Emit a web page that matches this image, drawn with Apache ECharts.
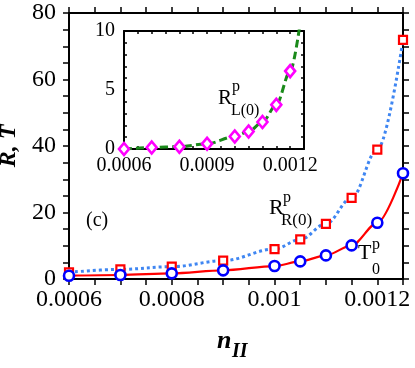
<!DOCTYPE html>
<html>
<head>
<meta charset="utf-8">
<script src="https://cdn.jsdelivr.net/npm/echarts@6/dist/echarts.min.js"></script>
<style>
html,body{margin:0;padding:0;background:#fff;}
#c{width:415px;height:368px;}
</style>
</head>
<body>
<div id="c"></div>
<script>
// ---- data ----
const nII = [0.0006, 0.0007, 0.0008, 0.0009, 0.001, 0.00105, 0.0011, 0.00115, 0.0012, 0.00125];
const T0p = [1.0, 1.2, 1.7, 2.6, 3.9, 5.3, 7.1, 10.1, 16.9, 31.8];
const RRp = [2.0, 2.9, 3.7, 5.5, 9.0, 11.9, 16.6, 24.4, 38.9, 71.9];

const nIIinset = [0.0006, 0.0007, 0.0008, 0.0009, 0.001, 0.00105, 0.0011, 0.00115, 0.0012];
const RLp = [0.0, 0.13, 0.2, 0.44, 1.06, 1.48, 2.28, 3.74, 6.6];
const RLcurveX = [0.0006, 0.0007, 0.0008, 0.0009, 0.001, 0.00105, 0.0011, 0.00115, 0.0012, 0.00125];
const RLcurveY = [0.0, 0.13, 0.2, 0.44, 1.06, 1.48, 2.28, 3.74, 6.6, 13.0];

const mainXTicks = [0.0006, 0.0008, 0.001, 0.0012];
const mainXLabels = ['0.0006', '0.0008', '0.001', '0.0012'];
const mainYTicks = [0, 20, 40, 60, 80];
const mainYLabels = ['0', '20', '40', '60', '80'];
const insetXTicks = [0.0006, 0.0009, 0.0012];
const insetXLabels = ['0.0006', '0.0009', '0.0012'];
const insetYTicks = [0, 5, 10];
const insetYLabels = ['0', '5', '10'];

// ---- helpers ----
const pairs = (xs, ys) => xs.map((x, i) => [x, ys[i]]);
const fmt = (ticks, labels) => v => {
  const i = ticks.findIndex(t => Math.abs(t - v) < 1e-9);
  return i >= 0 ? labels[i] : '';
};
const FONT = 'Liberation Serif';

function axis(opt) {
  const base = {
    type: 'value',
    splitLine: {show: false},
    axisLine: {show: true, onZero: false, lineStyle: {color: '#000', width: opt.lw}},
    axisTick: {show: true, inside: opt.inside, length: opt.tl, interval: 0, lineStyle: {color: '#000', width: 1.5}},
    axisLabel: {show: opt.labels, interval: 0, color: '#000', fontFamily: FONT, fontSize: opt.fs, margin: opt.margin, formatter: opt.formatter, hideOverlap: false}
  };
  return Object.assign(base, opt.extra);
}

const chart = echarts.init(document.getElementById('c'), null, {renderer: 'canvas'});

const option = {
  backgroundColor: '#fff',
  animation: false,
  grid: [
    {left: 69, top: 13, width: 334, height: 266, containLabel: false, outerBoundsMode: 'none'},
    {left: 124, top: 31, width: 180, height: 118, containLabel: false, outerBoundsMode: 'none'}
  ],
  xAxis: [
    axis({lw: 2, inside: false, tl: 6, labels: true, fs: 24, margin: 9, formatter: fmt(mainXTicks, mainXLabels),
      extra: {gridIndex: 0, position: 'bottom', min: 0.0006, max: 0.00125, interval: 0.00005}}),
    axis({lw: 2, inside: false, tl: 6, labels: false, fs: 24, margin: 8,
      extra: {gridIndex: 0, position: 'top', min: 0.0006, max: 0.00125, interval: 0.00005}}),
    axis({lw: 2, inside: true, tl: 3, labels: true, fs: 20, margin: 7, formatter: fmt(insetXTicks, insetXLabels),
      extra: {gridIndex: 1, position: 'bottom', min: 0.0006, max: 0.00125, interval: 0.00005}}),
    axis({lw: 2, inside: true, tl: 3, labels: false, fs: 20, margin: 8,
      extra: {gridIndex: 1, position: 'top', min: 0.0006, max: 0.00125, interval: 0.00005}})
  ],
  yAxis: [
    axis({lw: 2, inside: false, tl: 6, labels: true, fs: 24, margin: 13, formatter: fmt(mainYTicks, mainYLabels),
      extra: {gridIndex: 0, position: 'left', min: 0, max: 80, interval: 5,
        name: 'R, T', nameLocation: 'middle', nameGap: 47,
        nameTextStyle: {fontFamily: FONT, fontSize: 24, fontWeight: 'bold', fontStyle: 'italic', color: '#000'}}}),
    axis({lw: 2, inside: false, tl: 6, labels: false, fs: 24, margin: 8,
      extra: {gridIndex: 0, position: 'right', min: 0, max: 80, interval: 5}}),
    axis({lw: 2, inside: true, tl: 3, labels: true, fs: 20, margin: 9, formatter: fmt(insetYTicks, insetYLabels),
      extra: {gridIndex: 1, position: 'left', min: 0, max: 10, interval: 1}}),
    axis({lw: 2, inside: true, tl: 3, labels: false, fs: 20, margin: 8,
      extra: {gridIndex: 1, position: 'right', min: 0, max: 10, interval: 1}})
  ],
  series: [
    {type: 'line', xAxisIndex: 0, yAxisIndex: 0, data: pairs(nII, RRp), showSymbol: false, symbol: 'none',
      smooth: 0.35, smoothMonotone: 'x', lineStyle: {color: '#3f86f2', width: 3, type: [3, 3]}, z: 2},
    {type: 'line', xAxisIndex: 0, yAxisIndex: 0, data: pairs(nII, T0p), showSymbol: false, symbol: 'none',
      smooth: 0.3, smoothMonotone: 'x', lineStyle: {color: '#ff0000', width: 2.2}, z: 3},
    {type: 'scatter', xAxisIndex: 0, yAxisIndex: 0, data: pairs(nII, RRp), symbol: 'rect', symbolSize: 8,
      itemStyle: {color: '#fff', borderColor: '#ff0000', borderWidth: 2.2, opacity: 1}, z: 4},
    {type: 'scatter', xAxisIndex: 0, yAxisIndex: 0, data: pairs(nII, T0p), symbol: 'circle', symbolSize: 10,
      itemStyle: {color: '#fff', borderColor: '#0000ff', borderWidth: 2.6, opacity: 1}, z: 5},
    {type: 'line', xAxisIndex: 2, yAxisIndex: 2, data: pairs(RLcurveX, RLcurveY), showSymbol: false, symbol: 'none',
      smooth: 0.3, smoothMonotone: 'x', clip: true, lineStyle: {color: '#1a8a1a', width: 3, type: [8, 4]}, z: 2},
    {type: 'scatter', xAxisIndex: 2, yAxisIndex: 2, data: pairs(nIIinset, RLp), symbol: 'diamond', symbolSize: [10, 12],
      itemStyle: {color: '#fff', borderColor: '#ff00ff', borderWidth: 2.6, opacity: 1}, z: 5}
  ],
  graphic: [
    {type: 'text', left: 86, top: 211, style: {text: '(c)', font: '20px "Liberation Serif"', fill: '#000'}},
    // R^p_R(0)
    {type: 'text', x: 269, y: 208, style: {text: 'R', font: '22px "Liberation Serif"', fill: '#000', textVerticalAlign: 'middle'}},
    {type: 'text', x: 283, y: 198, style: {text: 'p', font: '16px "Liberation Serif"', fill: '#000', textVerticalAlign: 'middle'}},
    {type: 'text', x: 281, y: 221, style: {text: 'R(0)', font: '17px "Liberation Serif"', fill: '#000', textVerticalAlign: 'middle'}},
    // T^p_0
    {type: 'text', x: 358, y: 253, style: {text: 'T', font: '22px "Liberation Serif"', fill: '#000', textVerticalAlign: 'middle'}},
    {type: 'text', x: 372, y: 245, style: {text: 'p', font: '16px "Liberation Serif"', fill: '#000', textVerticalAlign: 'middle'}},
    {type: 'text', x: 372, y: 270, style: {text: '0', font: '16px "Liberation Serif"', fill: '#000', textVerticalAlign: 'middle'}},
    // R^p_L(0)
    {type: 'text', x: 218, y: 98, style: {text: 'R', font: '21px "Liberation Serif"', fill: '#000', textVerticalAlign: 'middle'}},
    {type: 'text', x: 232, y: 87, style: {text: 'p', font: '16px "Liberation Serif"', fill: '#000', textVerticalAlign: 'middle'}},
    {type: 'text', x: 231, y: 111, style: {text: 'L(0)', font: '16px "Liberation Serif"', fill: '#000', textVerticalAlign: 'middle'}},
    // n_II
    {type: 'text', x: 217, y: 341, style: {text: 'n', font: 'italic bold 26px "Liberation Serif"', fill: '#000', textVerticalAlign: 'middle'}},
    {type: 'text', x: 232, y: 352, style: {text: 'II', font: 'italic bold 20px "Liberation Serif"', fill: '#000', textVerticalAlign: 'middle'}}
  ]
};
chart.setOption(option);
</script>
</body>
</html>
